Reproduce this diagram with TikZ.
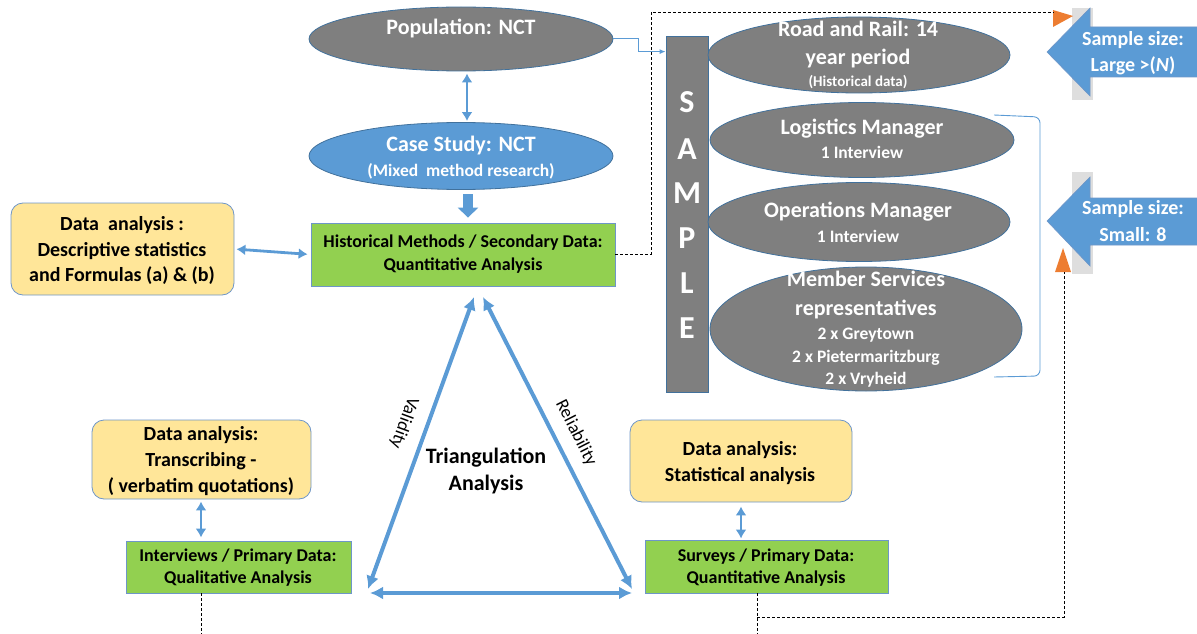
\documentclass[tikz,border=0pt]{standalone}
\usepackage{fontspec}
\setmainfont{Carlito}
\usetikzlibrary{arrows.meta,shapes.geometric}
\definecolor{ggrey}{RGB}{127,127,127}
\definecolor{bblue}{RGB}{91,155,213}
\definecolor{bdr}{RGB}{65,113,156}
\definecolor{bdrl}{RGB}{110,150,200}
\definecolor{ggreen}{RGB}{146,208,80}
\definecolor{yyel}{RGB}{255,230,153}
\definecolor{oorange}{RGB}{237,125,49}
\definecolor{lgrey}{RGB}{222,222,222}
\newcommand\fsA{\fontsize{22}{26}\selectfont}
\newcommand\fsB{\fontsize{17.5}{21}\selectfont}
\newcommand\fsC{\fontsize{20}{24}\selectfont}
\newcommand\fsD{\fontsize{18}{22}\selectfont}
\newcommand\fsE{\fontsize{15}{18}\selectfont}
\newcommand\fsS{\fontsize{32}{36}\selectfont}
\newcommand\fsV{\fontsize{18}{22}\selectfont}
\tikzset{
  gell/.style={ellipse, fill=ggrey, draw=bdr, line width=0.8, inner sep=0},
  bell/.style={ellipse, fill=bblue, draw=bdr, line width=0.8, inner sep=0},
  gbox/.style={rectangle, fill=ggreen, draw=bdrl, line width=0.8, inner sep=0},
  ybox/.style={rectangle, rounded corners=12, fill=yyel, draw=bdrl, line width=0.8, inner sep=0},
  ln/.style={anchor=base, inner sep=0, align=center},
  wt/.style={ln, text=white, font=\bfseries},
  bt/.style={ln, text=black, font=\bfseries},
  dbl/.style={bblue, line width=2.8, {Latex[length=9,width=11]}-{Latex[length=9,width=11]}},
  tri/.style={bblue, line width=4, {Latex[length=13,width=13]}-{Latex[length=13,width=13]}},
  dsh/.style={dash pattern=on 3pt off 2pt, line width=0.8, black},
  conn/.style={bblue, line width=1, -{Latex[length=6,width=5]}},
}
\begin{document}
\begin{tikzpicture}[x=1pt,y=-1pt]
\useasboundingbox (0,0) rectangle (1197,634);
% ---------- left column ----------
\node[gell, minimum width=304, minimum height=64] (pop) at (461,39) {};
\node[wt, font=\bfseries\fsA] (popT) at (461,34.6) {Population: NCT};
\node[bell, minimum width=304, minimum height=67] (case) at (461,156) {};
\node[wt, font=\bfseries\fsA] (caseT1) at (461,151.6) {Case Study: NCT};
\node[wt, font=\bfseries\fsB] (caseT2) at (461,176.3) {(Mixed~ method research)};
\node[gbox, minimum width=304, minimum height=63] (hist) at (463,254.5) {};
\node[bt, font=\bfseries\fsD] (histT1) at (463,247.4) {Historical Methods / Secondary Data:};
\node[bt, font=\bfseries\fsD] (histT2) at (463,270.4) {Quantitative Analysis};
\node[ybox, minimum width=223, minimum height=92] (desc) at (122.5,249) {};
\node[bt, font=\bfseries\fsC] (descT1) at (122,230) {Data~ analysis :};
\node[bt, font=\bfseries\fsC] (descT2) at (122,256) {Descriptive statistics};
\node[bt, font=\bfseries\fsC] (descT3) at (122,281) {and Formulas (a) \& (b)};
\coordinate (xa) at (467,0);
\coordinate (xb) at (468,0);
\draw[dbl, shorten <=2, shorten >=1] (pop.south -| xa) -- (case.north -| xa);
\draw[bblue, line width=10, -{Triangle[length=10,width=20]}, shorten <=4.5, shorten >=5] (case.south -| xb) -- (hist.north -| xb);
\draw[dbl, shorten <=2, shorten >=3] (desc.east) -- (hist.west);
% ---------- SAMPLE ----------
\node[rectangle, fill=ggrey, draw=bdr, line width=0.8, minimum width=42, minimum height=356, inner sep=0] (sample) at (687,214) {};
\foreach \l/\yy [count=\i] in {S/102,A/149,M/193,P/238,L/283,E/328}
  \node[wt, font=\bfseries\fsS] (let\i) at (687,\yy+10.3) {\l};
\draw[conn] (pop.east) -- ++(25,0) |- ([yshift=-16pt]sample.north west);
% ---------- sample ellipses ----------
\node[gell, minimum width=302, minimum height=76] (road) at (859,55) {};
\node[wt, font=\bfseries\fsA] (roadT1) at (858,36.6) {Road and Rail: 14};
\node[wt, font=\bfseries\fsA] (roadT2) at (858,64.6) {year period};
\node[wt, font=\bfseries\fsE] (roadT3) at (858,86.5) {(Historical data)};
\node[gell, minimum width=304, minimum height=75] (logi) at (862,140) {};
\node[wt, font=\bfseries\fsA] (logiT1) at (862,134.6) {Logistics Manager};
\node[wt, font=\bfseries\fsB] (logiT2) at (862,158.3) {1 Interview};
\node[gell, minimum width=302, minimum height=79] (oper) at (859,222) {};
\node[wt, font=\bfseries\fsA] (operT1) at (858,217.6) {Operations Manager};
\node[wt, font=\bfseries\fsB] (operT2) at (858,242.3) {1 Interview};
\node[gell, minimum width=312, minimum height=124] (memb) at (866,329) {};
\node[wt, font=\bfseries\fsA] (membT1) at (866,286.6) {Member Services};
\node[wt, font=\bfseries\fsA] (membT2) at (866,315.6) {representatives};
\node[wt, font=\bfseries\fsB] (membT3) at (866,339.3) {2 x Greytown};
\node[wt, font=\bfseries\fsB] (membT4) at (866,362.3) {2 x Pietermaritzburg};
\node[wt, font=\bfseries\fsB] (membT5) at (866,384.3) {2 x Vryheid};
% bracket
\coordinate (br1) at (994,115);
\coordinate (br2) at (1040,117);
\coordinate (br3) at (1040,376);
\coordinate (br4) at (994,377);
\draw[bblue, line width=0.9, rounded corners=6] (br1) -- (br2) -- (br3) -- (br4);
% ---------- sample size arrows ----------
\fill[lgrey] (1072,8) rectangle (1093,100);
\fill[bblue, draw=bdrl, line width=0.6] (1047,52) -- (1090,8) -- (1090,27) -- (1200,27) -- (1200,77) -- (1090,77) -- (1090,96) -- cycle;
\node[wt, font=\bfseries\fsC] (largeT1) at (1133,46) {Sample size:};
\node[wt, font=\bfseries\fsC] (largeT2) at (1133,71) {Large >(\textit{N})};
\fill[lgrey] (1072,172) rectangle (1093,274);
\fill[bblue, draw=bdrl, line width=0.6] (1047,221) -- (1090,177) -- (1090,198) -- (1200,198) -- (1200,245) -- (1090,245) -- (1090,266) -- cycle;
\node[wt, font=\bfseries\fsC] (smallT1) at (1133,214) {Sample size:};
\node[wt, font=\bfseries\fsC] (smallT2) at (1133,241) {Small: 8};
% orange triangles
\fill[oorange] (1053,10) -- (1073,16) -- (1053,27) -- cycle;
\fill[oorange] (1055,272) -- (1063,248) -- (1071,272) -- cycle;
\coordinate (o1) at (1053,12);
\coordinate (o2) at (1064,272);
\coordinate (dj) at (651,0);
\draw[dsh] (hist.east) -- (hist.east -| dj) -- (dj |- o1) -- (o1);
% ---------- bottom ----------
\node[ybox, minimum width=219, minimum height=79] (trans) at (201.5,459.5) {};
\node[bt, font=\bfseries\fsC] (transT1) at (201,440) {Data analysis:};
\node[bt, font=\bfseries\fsC] (transT2) at (201,466) {Transcribing -};
\node[bt, font=\bfseries\fsC] (transT3) at (201,492) {( verbatim quotations)};
\node[gbox, minimum width=225, minimum height=52] (intv) at (238.5,567) {};
\node[bt, font=\bfseries\fsD] (intvT1) at (238,561.4) {Interviews / Primary Data:};
\node[bt, font=\bfseries\fsD] (intvT2) at (238,583.4) {Qualitative Analysis};
\coordinate (xt) at (201,0);
\draw[dbl, shorten <=2, shorten >=3] (trans.south -| xt) -- (intv.north -| xt);
\coordinate (ib) at (201,634);
\draw[dsh] (intv.south -| xt) -- (ib);
\node[ybox, minimum width=222, minimum height=82] (stat) at (741,461) {};
\node[bt, font=\bfseries\fsC] (statT1) at (740,455) {Data analysis:};
\node[bt, font=\bfseries\fsC] (statT2) at (740,481) {Statistical analysis};
\node[gbox, minimum width=243, minimum height=53] (surv) at (766.5,566.5) {};
\node[bt, font=\bfseries\fsD] (survT1) at (766,561.4) {Surveys / Primary Data:};
\node[bt, font=\bfseries\fsD] (survT2) at (766,583.4) {Quantitative Analysis};
\coordinate (xs) at (741,0);
\draw[dbl, shorten <=4, shorten >=1] (stat.south -| xs) -- (surv.north -| xs);
\coordinate (s1) at (757,617);
\coordinate (sb) at (757,634);
\draw[dsh] (surv.south -| s1) -- (sb);
\draw[dsh] (s1) -| (o2);
% ---------- triangle ----------
\coordinate (tA1) at (474,297);
\coordinate (tL) at (368,589);
\coordinate (tA2) at (483,297);
\coordinate (tR) at (632,589);
\coordinate (bL) at (370,593);
\coordinate (bR) at (632,593);
\draw[tri] (tL) -- (tA1);
\draw[tri] (tA2) -- (tR);
\draw[tri] (bL) -- (bR);
\node[font=\fsV, inner sep=0, rotate=-110] (valid) at (404,423) {Validity};
\node[font=\fsV, inner sep=0, rotate=-63] (relia) at (576,433) {Reliability};
\node[bt, font=\bfseries\fsA] (triT1) at (486,463.6) {Triangulation};
\node[bt, font=\bfseries\fsA] (triT2) at (486,490.6) {Analysis};
\end{tikzpicture}
\end{document}
